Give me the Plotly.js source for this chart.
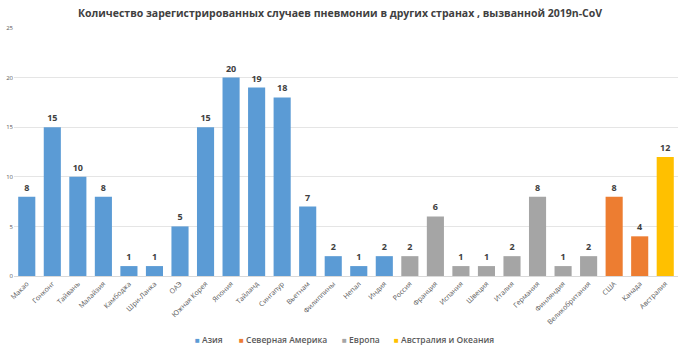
<!DOCTYPE html>
<html><head><meta charset="utf-8">
<script src="https://cdn.plot.ly/plotly-3.0.1.min.js"></script>
<style>html,body{margin:0;padding:0;background:#fff}#c{width:680px;height:346px}</style>
</head><body><div id="c"></div>
<script>
const asiaCats = ["Макао","Гонконг","Тайвань","Малайзия","Камбоджа","Шри-Ланка","ОАЭ","Южная Корея","Япония","Тайланд","Сингапур","Вьетнам","Филиппины","Непал","Индия"];
const asiaVals = [8,15,10,8,1,1,5,15,20,19,18,7,2,1,2];
const europeCats = ["Россия","Франция","Испания","Швеция","Италия","Германия","Финляндия","Великобритания"];
const europeVals = [2,6,1,1,2,8,1,2];
const naCats = ["США","Канада"];
const naVals = [8,4];
const ocCats = ["Австралия"];
const ocVals = [12];
const seriesNames = ["Азия","Северная Америка","Европа","Австралия и Океания"];
const yTicks = [0,5,10,15,20,25];

const allCats = asiaCats.concat(europeCats, naCats, ocCats);
const colors = ["#5B9BD5","#ED7D31","#A5A5A5","#FFC000"];
const groups = [[asiaCats,asiaVals],[naCats,naVals],[europeCats,europeVals],[ocCats,ocVals]];
const traces = groups.map((g,i)=>({
  type:'bar', name:seriesNames[i], x:g[0], y:g[1],
  marker:{color:colors[i]},
  text:g[1].map(String), textposition:'outside', cliponaxis:false,
  textfont:{family:'Open Sans', size:9, color:'#404040', weight:700},
  hoverinfo:'x+y'
}));
// custom legend (compact, like the original)
const legendX = [0.2696, 0.3358, 0.491, 0.569];
const annotations = seriesNames.map((n,i)=>({
  xref:'paper', yref:'paper', x:legendX[i], y:-0.258, xanchor:'left', yanchor:'middle',
  showarrow:false,
  text:'<span style="color:'+colors[i]+';font-size:8px">■</span> '+n,
  font:{family:'Open Sans', size:8.5, color:'#595959', weight:600}
}));
const layout = {
  width:680, height:346,
  margin:{l:14,r:2,t:28,b:70,autoexpand:false},
  paper_bgcolor:'#fff', plot_bgcolor:'#fff',
  barmode:'overlay', bargap:0.33,
  title:{text:'Количество зарегистрированных случаев пневмонии в других странах , вызванной 2019n-CoV',
    font:{family:'Open Sans', size:10.5, color:'#404040', weight:700},
    x:0.5, xanchor:'center', xref:'container', y:0.962, yanchor:'middle', yref:'container'},
  xaxis:{type:'category', categoryorder:'array', categoryarray:allCats,
    tickangle:-45, tickfont:{family:'Open Sans', size:7, color:'#595959'},
    showgrid:false, showline:true, linecolor:'#D9D9D9', ticks:'', automargin:false},
  yaxis:{range:[0,25], tickvals:yTicks, showgrid:true, gridcolor:'#E5E5E5', gridwidth:1,
    zeroline:false, showline:false, ticks:'', ticklen:0,
    tickfont:{family:'Open Sans', size:6, color:'#595959'}, automargin:false},
  showlegend:false,
  annotations:annotations
};
Plotly.newPlot('c', traces, layout, {displayModeBar:false, staticPlot:true});
</script></body></html>
